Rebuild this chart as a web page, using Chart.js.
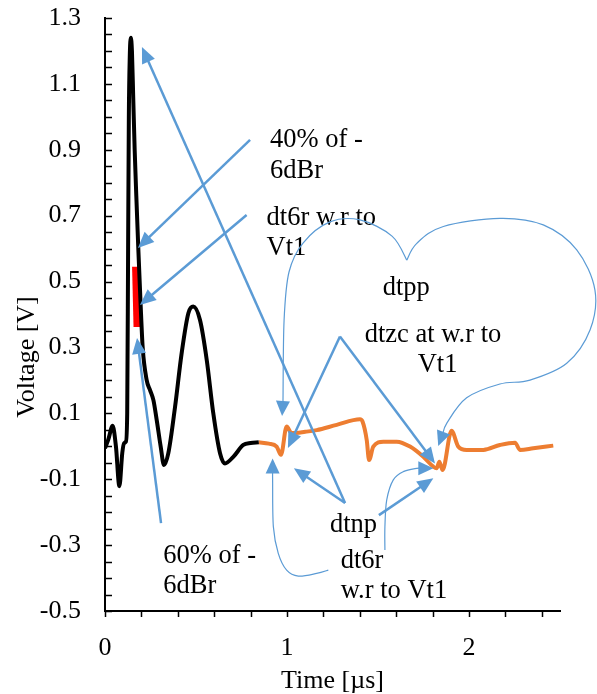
<!DOCTYPE html>
<html>
<head>
<meta charset="utf-8">
<script src="https://cdn.jsdelivr.net/npm/chart.js@4.4.0/dist/chart.umd.min.js"></script>
<style>
  html, body { margin: 0; padding: 0; background: #fff; }
</style>
</head>
<body>
<canvas id="chart" width="597" height="694"></canvas>
<script>
// measured waveform (time in us, voltage in V)
const blackTime = [0, 0.018, 0.042, 0.06, 0.079, 0.095, 0.104, 0.115, 0.122, 0.127, 0.131, 0.136, 0.142, 0.148, 0.155, 0.163, 0.172, 0.183, 0.195, 0.207, 0.229, 0.247, 0.266, 0.284, 0.306, 0.324, 0.348, 0.385, 0.421, 0.458, 0.485, 0.522, 0.559, 0.595, 0.632, 0.659, 0.705, 0.76, 0.8, 0.845];
const blackVolt = [-0.006, 0.02, 0.062, 0.0, -0.121, -0.02, 0.009, 0.014, 0.1, 0.6, 1.0, 1.18, 1.24, 1.2, 1.06, 0.9, 0.76, 0.6, 0.44, 0.3, 0.201, 0.171, 0.14, 0.08, -0.001, -0.057, -0.021, 0.12, 0.282, 0.404, 0.424, 0.383, 0.262, 0.1, -0.021, -0.052, -0.032, 0.004, 0.01, 0.012];

const orangeTime = [0.845, 0.9, 0.943, 0.967, 0.998, 1.025, 1.1, 1.163, 1.273, 1.401, 1.415, 1.438, 1.451, 1.474, 1.529, 1.603, 1.676, 1.749, 1.804, 1.822, 1.837, 1.855, 1.904, 1.941, 1.987, 2.079, 2.17, 2.253, 2.28, 2.353, 2.463];
const orangeVolt = [0.012, 0.008, -0.001, -0.026, 0.06, 0.04, 0.044, 0.049, 0.065, 0.082, 0.075, 0.019, -0.042, -0.001, 0.014, 0.014, -0.001, -0.032, -0.062, -0.067, -0.047, -0.072, 0.047, -0.001, -0.011, -0.011, 0.004, 0.011, -0.011, -0.006, 0.002];

// the 40%..60% band on the rising edge
const redTime = [0.168, 0.176];
const redVolt = [0.545, 0.362];

const xLabels = [0, 1, 2];
const xMinor = [0, 0.2, 0.4, 0.6, 0.8, 1, 1.2, 1.4, 1.6, 1.8, 2, 2.2, 2.4];
const yLabels = [-0.5, -0.3, -0.1, 0.1, 0.3, 0.5, 0.7, 0.9, 1.1, 1.3];

// callouts, in data units (t, V)
const arrowLines = [
  [1.319, -0.172, 0.203, 1.212],
  [1.319, -0.172, 1.038, -0.067],
  [1.505, -0.209, 1.804, -0.097],
  [0.797, 0.930, 0.181, 0.602],
  [0.778, 0.702, 0.192, 0.429],
  [0.308, -0.233, 0.176, 0.329],
  [1.291, 0.333, 1.005, -0.005],
  [1.291, 0.333, 1.813, -0.052]
];
const connectors = [
  [[1.658, 0.565], [1.577, 0.638], [1.401, 0.687], [1.236, 0.681], [1.088, 0.617], [1.011, 0.529], [0.984, 0.383], [0.978, 0.140], [0.973, 0.092]],
  [[1.658, 0.565], [1.713, 0.616], [1.859, 0.667], [2.170, 0.692], [2.408, 0.672], [2.592, 0.596], [2.692, 0.474], [2.665, 0.353], [2.537, 0.252], [2.335, 0.201], [2.170, 0.189], [1.987, 0.147], [1.879, 0.071], [1.831, 0.001]],
  [[1.227, -0.376], [1.163, -0.386], [1.062, -0.394], [0.998, -0.376], [0.952, -0.325], [0.925, -0.244], [0.921, -0.102], [0.921, -0.037]],
  [[1.538, -0.315], [1.538, -0.244], [1.548, -0.163], [1.584, -0.102], [1.639, -0.077], [1.713, -0.067], [1.804, -0.067]]
];
const notes = [
  ['40% of -', 0.907, 0.908, 'left'],
  ['6dBr', 0.907, 0.813, 'left'],
  ['dt6r w.r to', 0.888, 0.672, 'left'],
  ['Vt1', 0.888, 0.581, 'left'],
  ['dtpp', 1.526, 0.459, 'left'],
  ['dtzc at w.r to', 1.802, 0.317, 'center'],
  ['Vt1', 1.827, 0.226, 'center'],
  ['dtnp', 1.236, -0.259, 'left'],
  ['dt6r', 1.295, -0.370, 'left'],
  ['w.r to Vt1', 1.295, -0.461, 'left'],
  ['60% of -', 0.320, -0.353, 'left'],
  ['6dBr', 0.320, -0.446, 'left']
];

const FONT = '"Liberation Serif", "Times New Roman", serif';
const BLUE = '#5B9BD5';
const toXY = (ts, vs) => ts.map((t, i) => ({ x: t, y: vs[i] }));

function head(ctx, x0, y0, x1, y1, len, half) {
  const a = Math.atan2(y1 - y0, x1 - x0);
  const c = Math.cos(a), s = Math.sin(a);
  ctx.beginPath();
  ctx.moveTo(x1, y1);
  ctx.lineTo(x1 - len * c + half * s, y1 - len * s - half * c);
  ctx.lineTo(x1 - len * c - half * s, y1 - len * s + half * c);
  ctx.closePath();
  ctx.fill();
}

const overlay = {
  id: 'overlay',
  afterDraw(chart) {
    const { ctx, chartArea: ca, scales: { x, y } } = chart;
    const px = t => x.getPixelForValue(t);
    const py = v => y.getPixelForValue(v);
    ctx.save();

    // tick marks: y inward every 0.05, x outward every 0.2
    ctx.strokeStyle = '#000';
    ctx.lineWidth = 1.5;
    ctx.beginPath();
    for (let v = -0.5; v <= 1.3001; v += 0.05) {
      const yy = Math.round(py(v)) + 0.5;
      ctx.moveTo(ca.left, yy);
      ctx.lineTo(ca.left + 7, yy);
    }
    xMinor.forEach(t => {
      const xx = Math.round(px(t)) + 0.5;
      ctx.moveTo(xx, ca.bottom);
      ctx.lineTo(xx, ca.bottom + 6);
    });
    ctx.stroke();

    // axis titles
    ctx.fillStyle = '#000';
    ctx.font = '26px ' + FONT;
    ctx.textAlign = 'center';
    ctx.textBaseline = 'middle';
    ctx.fillText('Time [µs]', (ca.left + ca.right) / 2, 681);
    ctx.save();
    ctx.translate(27, 357);
    ctx.rotate(-Math.PI / 2);
    ctx.fillText('Voltage [V]', 0, 0);
    ctx.restore();

    // notes
    ctx.font = '26.5px ' + FONT;
    ctx.textBaseline = 'alphabetic';
    notes.forEach(([txt, t, v, al]) => {
      ctx.textAlign = al;
      ctx.fillText(txt, px(t), py(v));
    });

    // straight arrows
    ctx.strokeStyle = BLUE;
    ctx.fillStyle = BLUE;
    ctx.lineWidth = 2.5;
    arrowLines.forEach(([t0, v0, t1, v1]) => {
      const x0 = px(t0), y0 = py(v0), x1 = px(t1), y1 = py(v1);
      const a = Math.atan2(y1 - y0, x1 - x0);
      ctx.beginPath();
      ctx.moveTo(x0, y0);
      ctx.lineTo(x1 - 12 * Math.cos(a), y1 - 12 * Math.sin(a));
      ctx.stroke();
      head(ctx, x0, y0, x1, y1, 16, 7);
    });

    // curved connectors (catmull-rom through the points)
    ctx.lineWidth = 1.2;
    connectors.forEach(pts => {
      const p = pts.map(([t, v]) => [px(t), py(v)]);
      const n = p.length;
      const last = p[n - 1], prev = p[n - 2];
      const a = Math.atan2(last[1] - prev[1], last[0] - prev[0]);
      const end = [last[0] - 12 * Math.cos(a), last[1] - 12 * Math.sin(a)];
      const q = p.slice(0, n - 1).concat([end]);
      ctx.beginPath();
      ctx.moveTo(q[0][0], q[0][1]);
      for (let i = 0; i < q.length - 1; i++) {
        const p0 = q[Math.max(i - 1, 0)], p1 = q[i], p2 = q[i + 1], p3 = q[Math.min(i + 2, q.length - 1)];
        ctx.bezierCurveTo(
          p1[0] + (p2[0] - p0[0]) / 6, p1[1] + (p2[1] - p0[1]) / 6,
          p2[0] - (p3[0] - p1[0]) / 6, p2[1] - (p3[1] - p1[1]) / 6,
          p2[0], p2[1]);
      }
      ctx.stroke();
      head(ctx, prev[0], prev[1], last[0], last[1], 15, 7);
    });

    ctx.restore();
  }
};

new Chart(document.getElementById('chart'), {
  type: 'line',
  data: {
    datasets: [
      { data: toXY(blackTime, blackVolt), borderColor: '#000', borderWidth: 4, pointRadius: 0, cubicInterpolationMode: 'monotone' },
      { data: toXY(orangeTime, orangeVolt), borderColor: '#ED7D31', borderWidth: 4, pointRadius: 0, cubicInterpolationMode: 'monotone' },
      { data: toXY(redTime, redVolt), borderColor: '#FF0000', borderWidth: 7, pointRadius: 0, borderCapStyle: 'butt' }
    ]
  },
  options: {
    responsive: false,
    animation: false,
    events: [],
    layout: { padding: { left: 0, top: 18, right: 37, bottom: 0 } },
    plugins: { legend: { display: false }, tooltip: { enabled: false } },
    scales: {
      x: {
        type: 'linear',
        min: 0, max: 2.5,
        grid: { display: false, drawTicks: false },
        border: { display: true, color: '#000', width: 2 },
        afterBuildTicks: s => { s.ticks = xLabels.map(v => ({ value: v })); },
        afterFit: s => { s.height = 83; s.paddingLeft = 0; s.paddingRight = 0; },
        ticks: { color: '#000', font: { family: FONT, size: 26 }, padding: 22, maxRotation: 0, autoSkip: false }
      },
      y: {
        min: -0.5, max: 1.3,
        grid: { display: false, drawTicks: false },
        border: { display: true, color: '#000', width: 2 },
        afterBuildTicks: s => { s.ticks = yLabels.map(v => ({ value: v })); },
        afterFit: s => { s.width = 105; s.paddingTop = 0; s.paddingBottom = 0; },
        ticks: { color: '#000', font: { family: FONT, size: 26 }, padding: 24, callback: v => v.toFixed(1) }
      }
    }
  },
  plugins: [overlay]
});
</script>
</body>
</html>
